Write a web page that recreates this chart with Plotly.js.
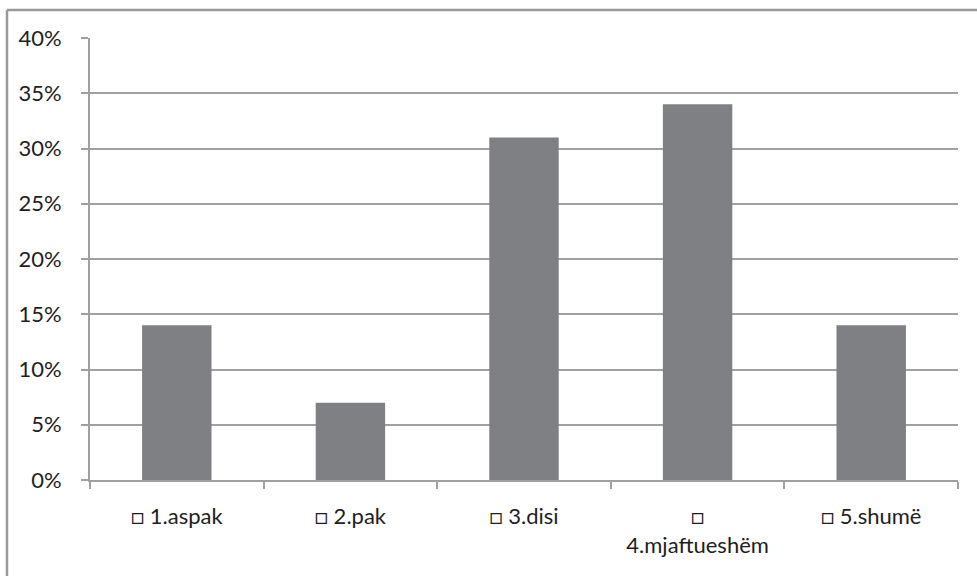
<!DOCTYPE html>
<html>
<head>
<meta charset="utf-8">
<script src="https://cdn.plot.ly/plotly-3.0.1.min.js"></script>
<style>html,body{margin:0;padding:0;background:#fff;}#chart{width:977px;height:576px;}</style>
</head>
<body>
<div id="chart"></div>
<script>
const categories = ["□ 1.aspak", "□ 2.pak", "□ 3.disi", "□<br>4.mjaftueshëm", "□ 5.shumë"];
const values = [0.14, 0.07, 0.31, 0.34, 0.14];
const yTickVals = [0, 0.05, 0.10, 0.15, 0.20, 0.25, 0.30, 0.35, 0.40];

const gridColor = '#a0a0a0';
const font = {family: 'Lato, "Open Sans", sans-serif', size: 22, color: '#1e1e1e'};

const trace = {
  type: 'bar',
  x: categories,
  y: values,
  marker: {color: '#7f8084', line: {width: 0}},
  hoverinfo: 'none'
};

const layout = {
  width: 977,
  height: 576,
  margin: {l: 90, r: 19, t: 38, b: 96},
  paper_bgcolor: '#fff',
  plot_bgcolor: '#fff',
  font: font,
  showlegend: false,
  bargap: 0.6,
  xaxis: {
    type: 'category',
    tickson: 'boundaries',
    ticks: 'outside',
    ticklen: 7,
    tickwidth: 2,
    tickcolor: gridColor,
    showline: true,
    linecolor: gridColor,
    linewidth: 2,
    showgrid: false,
    zeroline: false,
    tickfont: font,
    ticklabelstandoff: 16,
    fixedrange: true
  },
  yaxis: {
    range: [0, 0.4],
    tickvals: yTickVals,
    tickformat: '.0%',
    ticks: 'outside',
    ticklen: 7,
    tickwidth: 2,
    tickcolor: gridColor,
    showline: true,
    linecolor: gridColor,
    linewidth: 2,
    showgrid: true,
    gridcolor: gridColor,
    gridwidth: 2,
    zeroline: false,
    tickfont: font,
    ticklabelstandoff: 15,
    fixedrange: true
  },
  shapes: [
    {type: 'line', xref: 'paper', yref: 'paper',
     x0: (7 - 90) / 868, x1: 1.05, y0: (480 - 10) / 442, y1: (480 - 10) / 442,
     line: {color: '#9a9a9a', width: 2.5}, layer: 'above'},
    {type: 'line', xref: 'paper', yref: 'paper',
     x0: (7 - 90) / 868, x1: (7 - 90) / 868, y0: -0.3, y1: (480 - 10) / 442,
     line: {color: '#9a9a9a', width: 2.5}, layer: 'above'}
  ]
};

Plotly.newPlot('chart', [trace], layout, {staticPlot: true, displayModeBar: false});
</script>
</body>
</html>
